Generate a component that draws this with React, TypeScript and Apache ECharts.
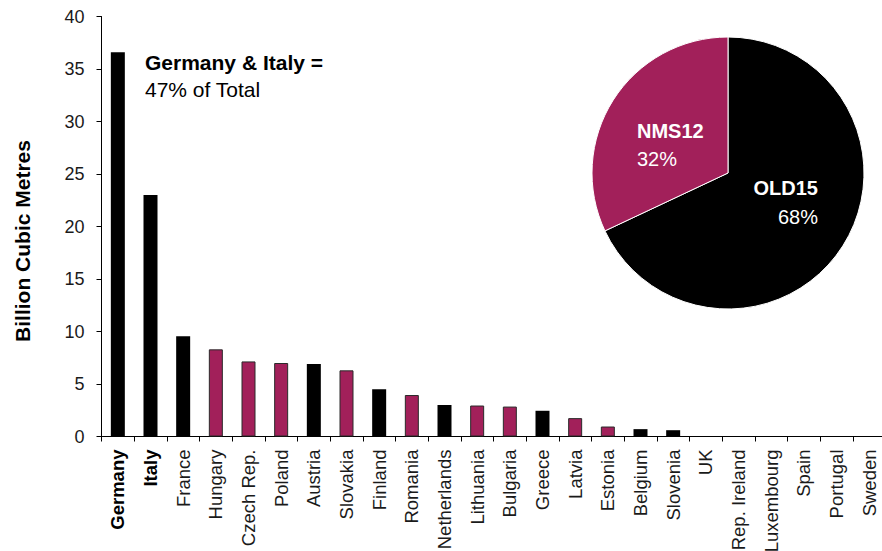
import React, { useEffect, useRef } from "react";
import * as echarts from "echarts";

const categories = [
  "Germany", "Italy", "France", "Hungary", "Czech Rep.", "Poland", "Austria", "Slovakia",
  "Finland", "Romania", "Netherlands", "Lithuania", "Bulgaria", "Greece", "Latvia", "Estonia",
  "Belgium", "Slovenia", "UK", "Rep. Ireland", "Luxembourg", "Spain", "Portugal", "Sweden",
];
const values = [
  36.6, 23.0, 9.55, 8.3, 7.15, 7.0, 6.9, 6.3,
  4.5, 3.95, 3.0, 2.95, 2.85, 2.45, 1.75, 0.95,
  0.7, 0.6, 0, 0, 0, 0, 0, 0,
];
const groups = [
  "OLD15", "OLD15", "OLD15", "NMS12", "NMS12", "NMS12", "OLD15", "NMS12",
  "OLD15", "NMS12", "OLD15", "NMS12", "NMS12", "OLD15", "NMS12", "NMS12",
  "OLD15", "OLD15", "OLD15", "OLD15", "OLD15", "OLD15", "OLD15", "OLD15",
];
const boldCategories = ["Germany", "Italy"];
const pieNames = ["OLD15", "NMS12"];
const pieValues = [68, 32];
const yTicks = { min: 0, max: 40, interval: 5 };

const colors: Record<string, string> = { OLD15: "#000000", NMS12: "#A2205A" };
const FONT = "'Liberation Sans', Arial, sans-serif";

export default function App() {
  const ref = useRef<HTMLDivElement>(null);
  useEffect(() => {
    if (!ref.current) return;
    const chart = echarts.init(ref.current, undefined, { renderer: "svg" });
    const total = pieValues.reduce((a, b) => a + b, 0);
    const pct = (i: number) => `${Math.round((pieValues[i] / total) * 100)}%`;
    chart.setOption({
      animation: false,
      backgroundColor: "#ffffff",
      textStyle: { fontFamily: FONT },
      grid: {
        left: 101.5,
        top: 16.5,
        width: 784,
        height: 420,
        containLabel: false,
        outerBoundsMode: "none",
      },
      xAxis: {
        type: "category",
        data: categories,
        axisLine: { lineStyle: { color: "#000", width: 1 } },
        axisTick: { show: true, length: 5, interval: 0, lineStyle: { color: "#000" } },
        axisLabel: {
          interval: 0,
          rotate: 90,
          margin: 13,
          fontSize: 18.5,
          color: "#1a1a1a",
          fontFamily: FONT,
          hideOverlap: false,
          formatter: (v: string) => (boldCategories.includes(v) ? `{b|${v}}` : v),
          rich: { b: { fontWeight: "bold", fontSize: 18.5, color: "#000", fontFamily: FONT } },
        },
      },
      yAxis: {
        type: "value",
        min: yTicks.min,
        max: yTicks.max,
        interval: yTicks.interval,
        axisLine: { show: true, lineStyle: { color: "#000", width: 1 } },
        axisTick: { show: true, length: 5, lineStyle: { color: "#000" } },
        axisLabel: { fontSize: 18, color: "#1a1a1a", margin: 17, fontFamily: FONT },
        splitLine: { show: false },
      },
      series: [
        {
          type: "bar",
          barWidth: 14,
          data: values.map((v, i) => ({
            value: v,
            itemStyle: {
              color: colors[groups[i]],
              borderColor: groups[i] === "NMS12" ? "#2a2a2a" : "#000",
              borderWidth: groups[i] === "NMS12" ? 1 : 0,
            },
          })),
        },
        {
          type: "pie",
          center: [728, 173],
          radius: 136,
          startAngle: 90,
          clockwise: true,
          label: { show: false },
          labelLine: { show: false },
          itemStyle: { borderColor: "#ffffff", borderWidth: 1 },
          data: pieNames.map((n, i) => ({
            name: n,
            value: pieValues[i],
            itemStyle: { color: colors[n] },
          })),
        },
      ],
      graphic: {
        z: 100,
        zlevel: 0,
        elements: [
          {
            type: "text",
            x: 22,
            y: 241,
            rotation: Math.PI / 2,
            style: {
              text: "Billion Cubic Metres",
              fontSize: 21,
              fontWeight: "bold",
              fontFamily: FONT,
              fill: "#000",
              align: "center",
              verticalAlign: "middle",
            },
          },
          {
            type: "text",
            x: 145,
            y: 62,
            style: {
              text: "Germany & Italy =",
              fontSize: 21,
              fontWeight: "bold",
              fontFamily: FONT,
              fill: "#000",
              align: "left",
              verticalAlign: "middle",
            },
          },
          {
            type: "text",
            x: 145,
            y: 89,
            style: {
              text: "47% of Total",
              fontSize: 21,
              fontFamily: FONT,
              fill: "#000",
              align: "left",
              verticalAlign: "middle",
            },
          },
          {
            type: "text",
            x: 637,
            y: 131,
            z: 100,
            style: { text: pieNames[1], fontSize: 20, fontWeight: "bold", fontFamily: FONT, fill: "#fff", align: "left", verticalAlign: "middle" },
          },
          {
            type: "text",
            x: 637,
            y: 159,
            z: 100,
            style: { text: pct(1), fontSize: 20, fontFamily: FONT, fill: "#fff", align: "left", verticalAlign: "middle" },
          },
          {
            type: "text",
            x: 818,
            y: 188,
            z: 100,
            style: { text: pieNames[0], fontSize: 20, fontWeight: "bold", fontFamily: FONT, fill: "#fff", align: "right", verticalAlign: "middle" },
          },
          {
            type: "text",
            x: 818,
            y: 217,
            z: 100,
            style: { text: pct(0), fontSize: 20, fontFamily: FONT, fill: "#fff", align: "right", verticalAlign: "middle" },
          },
        ],
      },
    });
    return () => chart.dispose();
  }, []);
  return <div ref={ref} style={{ width: 882, height: 551, position: "absolute", left: 0, top: 0 }} />;
}
